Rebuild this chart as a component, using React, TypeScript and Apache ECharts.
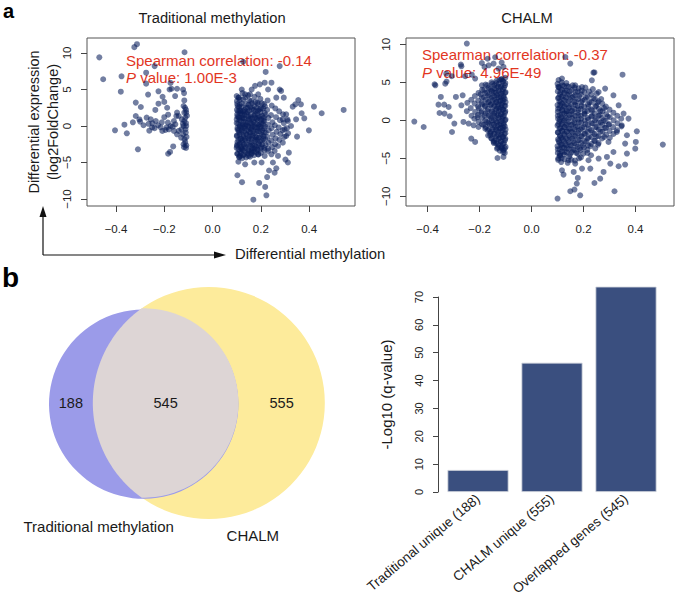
import React, { useEffect, useRef } from "react";
import * as echarts from "echarts";

const FONT = "'Liberation Sans', Arial, Helvetica, sans-serif";

// ---------- Panel a: Traditional methylation (x = diff. methylation, y = log2FC)
const tradNegative: number[][] = [
  [-0.469, 9.4], [-0.453, 6.4], [-0.324, 10.8], [-0.313, 11.2], [-0.116, 10.1], [-0.377, 6.8], [-0.38, 4.7],
  [-0.275, 7.3], [-0.24, 8.2], [-0.275, 5.8], [-0.318, 3.2], [-0.297, 2.6], [-0.267, 4.3], [-0.224, 4.75],
  [-0.174, 5.9], [-0.17, 5.1], [-0.178, 5.0], [-0.147, 5.1], [-0.155, 4.1], [-0.122, 5.0], [-0.118, 4.5],
  [-0.117, 3.5], [-0.207, 4.0], [-0.2, 3.3], [-0.224, 3.05], [-0.237, 2.2], [-0.188, 2.5], [-0.184, 1.55],
  [-0.318, 1.37], [-0.303, 0.9], [-0.3, 0.6], [-0.273, 1.14], [-0.256, 0.91], [-0.249, 0.37], [-0.235, 0.68],
  [-0.226, 0.1], [-0.215, -0.18], [-0.208, -0.68], [-0.195, -0.55], [-0.286, 0.1], [-0.262, -0.64],
  [-0.365, 0.18], [-0.404, -0.59], [-0.355, -1.0], [-0.309, -3.2], [-0.184, -3.8], [-0.176, -3.56],
  [-0.163, -2.8], [-0.12, -2.5], [-0.109, -2.65], [-0.116, -1.83], [-0.122, -1.14], [-0.111, -0.91],
  [-0.129, -0.46], [-0.12, 0], [-0.109, 0], [-0.117, 0.68], [-0.127, 0.91], [-0.113, 1.14], [-0.109, 1.83],
  [-0.117, 1.83], [-0.114, 2.5], [-0.12, 2.74], [-0.16, 0.68], [-0.154, 0.23], [-0.147, 1.83], [-0.15, 1.37],
  [-0.14, 1.37], [-0.174, 0], [-0.165, -0.09], [-0.16, -0.68], [-0.181, -0.46], [-0.185, 0.46], [-0.147, -1.14],
  [-0.14, -0.68], [-0.112, -0.45], [-0.108, -1.5], [-0.113, -2.2], [-0.11, -3.0], [-0.118, -2.9], [-0.11, 0.4],
  [-0.106, 1.4], [-0.11, 2.2], [-0.123, 0.3], [-0.13, -1.6], [-0.2, 1.2], [-0.21, 0.5], [-0.265, 0.3],
  [-0.24, -0.3], [-0.25, -0.2], [-0.33, 0.5], [-0.19, -0.2],
];

const tradPositiveOuter: number[][] = [
  [0.169, -10.1], [0.223, -9.5], [0.218, -8.35], [0.193, -7.8], [0.122, -7.7], [0.103, -6.75], [0.226, -7.0],
  [0.234, -6.1], [0.257, -6.4], [0.264, -5.8], [0.312, -5.0], [0.302, -4.6], [0.316, -3.65], [0.271, -4.1],
  [0.25, -5.0], [0.173, -5.0], [0.203, -5.0], [0.135, -5.25], [0.107, -4.9], [0.35, -1.46], [0.399, -0.6],
  [0.346, 0.91], [0.38, 1.05], [0.452, 1.74], [0.543, 2.2], [0.42, 2.65], [0.369, 1.74], [0.355, 3.56],
  [0.366, 2.97], [0.332, 2.65], [0.343, 2.97], [0.295, 3.88], [0.278, 8.2], [0.22, 7.4], [0.244, 5.93],
  [0.216, 5.93], [0.196, 5.7], [0.176, 5.5], [0.162, 5.0], [0.23, 5.0], [0.278, 5.0], [0.284, 4.8],
  [0.121, 5.0], [0.107, 3.88], [0.135, 4.34], [0.155, 4.34], [0.189, 4.34], [0.264, 3.88], [0.305, 1.6],
  [0.312, 0.68], [0.325, 0], [0.291, 0.91], [0.298, -0.46], [0.305, -1.37], [0.291, -2.28], [0.271, -2.74],
  [0.257, -3.42], [0.23, -3.42], [0.244, -3.88], [0.216, -4.1], [0.189, -3.88], [0.148, -4.1], [0.114, -4.1],
  [0.121, -3.19], [0.101, -2.74], [0.162, -3.42], [0.127, 8.8],
];

const tradPositiveCore: number[][] = [
  [0.100, 4.1], [0.102, 3.0], [0.101, 2.2], [0.103, 1.3], [0.100, 0.4], [0.104, -0.5], [0.101, -1.3], [0.103, -2.2], [0.100, -3.0], [0.102, -3.8],
  [0.112, 3.6], [0.110, 2.6], [0.114, 1.7], [0.111, 0.8], [0.113, -0.1], [0.110, -0.9], [0.115, -1.8], [0.112, -2.6], [0.114, -3.4], [0.111, -4.3],
  [0.124, 4.5], [0.121, 3.1], [0.126, 2.0], [0.123, 1.1], [0.125, 0.2], [0.122, -0.6], [0.127, -1.5], [0.124, -2.3], [0.121, -3.1], [0.126, -4.0],
  [0.135, 3.9], [0.138, 2.5], [0.133, 1.5], [0.137, 0.5], [0.134, -0.3], [0.139, -1.1], [0.136, -2.0], [0.133, -2.8], [0.138, -3.6],
  [0.147, 4.2], [0.149, 2.9], [0.145, 1.9], [0.150, 0.9], [0.146, 0.0], [0.151, -0.8], [0.148, -1.7], [0.152, -2.5], [0.147, -3.3],
  [0.160, 3.4], [0.163, 2.3], [0.158, 1.2], [0.162, 0.3], [0.159, -0.5], [0.164, -1.4], [0.161, -2.2], [0.165, -3.0], [0.160, -3.9],
  [0.174, 4.0], [0.172, 2.7], [0.176, 1.6], [0.171, 0.6], [0.177, -0.2], [0.173, -1.0], [0.178, -1.9], [0.175, -2.7], [0.170, -3.5],
  [0.186, 3.2], [0.189, 2.1], [0.184, 1.0], [0.190, 0.1], [0.187, -0.7], [0.183, -1.6], [0.191, -2.4], [0.185, -3.2],
  [0.198, 3.7], [0.201, 2.4], [0.196, 1.3], [0.203, 0.4], [0.199, -0.4], [0.204, -1.2], [0.197, -2.1], [0.202, -2.9], [0.200, -3.7],
  [0.213, 3.0], [0.216, 1.8], [0.211, 0.7], [0.218, -0.1], [0.214, -0.9], [0.210, -1.8], [0.219, -2.6], [0.215, -3.3],
  [0.228, 3.5], [0.226, 2.2], [0.231, 1.1], [0.229, 0.2], [0.233, -0.6], [0.227, -1.5], [0.232, -2.3], [0.230, -3.1],
  [0.245, 2.8], [0.242, 1.5], [0.248, 0.5], [0.244, -0.3], [0.249, -1.2], [0.243, -2.0], [0.247, -2.9],
  [0.260, 2.4], [0.263, 1.2], [0.258, 0.1], [0.265, -0.8], [0.261, -1.7], [0.259, -2.5],
  [0.276, 2.0], [0.279, 0.8], [0.274, -0.2], [0.281, -1.1], [0.277, -1.9],
  [0.292, 1.6], [0.295, 0.4], [0.290, -0.6], [0.297, -1.5],
  [0.310, 0.9], [0.308, -0.3], [0.313, -1.0],
];

const tradPositiveDense: number[][] = [
  [0.101, 3.4], [0.104, 2.7], [0.109, 3.9], [0.113, 2.9], [0.106, 2.0], [0.116, 2.1], [0.121, 2.6], [0.127, 3.6], [0.132, 2.2], [0.139, 3.0], [0.146, 2.5], [0.152, 3.5], [0.158, 2.6], [0.163, 3.1], [0.171, 2.2], [0.177, 3.3], [0.183, 2.5], [0.189, 3.0], [0.196, 2.3], [0.204, 3.1], [0.209, 2.4], [0.217, 2.7],
  [0.102, 1.6], [0.108, 1.2], [0.112, 2.1], [0.118, 1.8], [0.123, 1.5], [0.129, 1.1], [0.134, 1.9], [0.141, 1.7], [0.148, 1.3], [0.153, 2.1], [0.159, 1.6], [0.165, 1.0], [0.172, 1.4], [0.178, 2.0], [0.185, 1.7], [0.191, 1.1], [0.198, 1.9], [0.205, 1.4], [0.212, 1.1], [0.219, 1.5],
  [0.100, 0.9], [0.106, 0.3], [0.111, 1.1], [0.117, 0.7], [0.122, 0.0], [0.128, 0.6], [0.133, 1.0], [0.140, 0.2], [0.147, 0.5], [0.152, 1.0], [0.158, 0.4], [0.164, -0.1], [0.170, 0.5], [0.176, 1.1], [0.183, 0.3], [0.188, 0.8], [0.195, 0.2], [0.201, 0.9], [0.208, 0.3], [0.214, 0.7],
  [0.103, -0.3], [0.109, -0.6], [0.114, 0.1], [0.120, -0.8], [0.126, -0.2], [0.131, -0.7], [0.137, 0.0], [0.144, -0.6], [0.150, -0.2], [0.156, -0.9], [0.162, -0.3], [0.168, -0.7], [0.175, -0.1], [0.181, -0.8], [0.186, -0.2], [0.193, -0.7], [0.199, -0.1], [0.206, -0.6], [0.213, -0.3], [0.220, -0.9],
  [0.101, -1.4], [0.107, -1.9], [0.112, -1.2], [0.118, -1.7], [0.124, -2.0], [0.129, -1.3], [0.135, -1.8], [0.142, -1.2], [0.149, -1.9], [0.154, -1.4], [0.160, -1.8], [0.166, -1.3], [0.173, -2.1], [0.179, -1.5], [0.184, -1.9], [0.191, -1.6], [0.197, -1.3], [0.204, -2.0], [0.211, -1.4], [0.218, -1.8],
  [0.102, -2.6], [0.108, -3.2], [0.113, -2.4], [0.119, -2.9], [0.125, -3.3], [0.130, -2.5], [0.136, -3.0], [0.143, -2.6], [0.149, -3.4], [0.156, -2.7], [0.161, -3.2], [0.167, -2.6], [0.174, -3.1], [0.180, -2.8], [0.187, -3.3], [0.192, -2.6], [0.199, -3.1], [0.206, -2.5], [0.214, -3.0],
  [0.104, -3.8], [0.110, -4.2], [0.117, -3.7], [0.123, -4.4], [0.131, -3.9], [0.139, -4.3], [0.146, -3.8], [0.155, -4.2], [0.163, -3.7], [0.172, -4.0], [0.181, -3.6], [0.190, -3.9],
];

// ---------- Panel a: CHALM
const chalmNegativeOuter: number[][] = [
  [-0.249, 10.1], [-0.451, -0.17], [-0.415, -0.88], [-0.373, 4.74], [-0.332, 4.82], [-0.272, 7.33], [-0.328, 6.14],
  [-0.349, 3.07], [-0.358, 2.06], [-0.336, 2.06], [-0.354, 0.96], [-0.335, 0.88], [-0.315, 0.53], [-0.319, 1.75],
  [-0.291, 3.07], [-0.27, 1.97], [-0.265, 3.29], [-0.306, -1.54], [-0.297, -0.43], [-0.232, -2.41], [-0.217, -2.85],
  [-0.131, -4.96], [-0.108, -4.82], [-0.133, -3.73], [-0.114, -3.73], [-0.191, 7.54], [-0.181, 7.02], [-0.165, 7.24],
  [-0.146, 7.46], [-0.127, 6.8], [-0.108, 7.02], [-0.217, 5.49], [-0.191, 4.6], [-0.262, -0.22], [-0.242, -0.43],
  [-0.223, -0.66], [-0.204, -0.88], [-0.178, -1.1], [-0.159, -1.97], [-0.146, -2.85], [-0.169, 8.1], [-0.14, 8.3],
  [-0.115, 7.6], [-0.115, 5.4], [-0.23, 6.0], [-0.255, 5.8], [-0.27, 7.1], [-0.307, 5.8], [-0.327, 5.1], [-0.37, 4.6],
];

const chalmNegativeCore: number[][] = [
  [-0.101, 5.6], [-0.102, 4.6], [-0.100, 3.7], [-0.103, 2.8], [-0.101, 1.9], [-0.102, 1.0], [-0.100, 0.1], [-0.103, -0.8], [-0.101, -1.7], [-0.102, -2.6], [-0.100, -3.5], [-0.103, -4.3],
  [-0.109, 5.1], [-0.110, 4.1], [-0.108, 3.2], [-0.111, 2.3], [-0.109, 1.4], [-0.110, 0.5], [-0.108, -0.4], [-0.111, -1.3], [-0.109, -2.2], [-0.110, -3.1], [-0.108, -3.9],
  [-0.117, 5.4], [-0.118, 4.4], [-0.116, 3.5], [-0.119, 2.6], [-0.117, 1.7], [-0.118, 0.8], [-0.116, -0.1], [-0.119, -1.0], [-0.117, -1.9], [-0.118, -2.8], [-0.116, -3.6],
  [-0.126, 4.8], [-0.127, 3.9], [-0.125, 3.0], [-0.128, 2.1], [-0.126, 1.2], [-0.127, 0.3], [-0.125, -0.6], [-0.128, -1.5], [-0.126, -2.4], [-0.127, -3.3],
  [-0.135, 5.2], [-0.136, 4.2], [-0.134, 3.3], [-0.137, 2.4], [-0.135, 1.5], [-0.136, 0.6], [-0.134, -0.3], [-0.137, -1.2], [-0.135, -2.1], [-0.136, -3.0],
  [-0.144, 4.6], [-0.145, 3.6], [-0.143, 2.7], [-0.146, 1.8], [-0.144, 0.9], [-0.145, 0.0], [-0.143, -0.9], [-0.146, -1.8], [-0.144, -2.7],
  [-0.154, 5.0], [-0.155, 3.9], [-0.153, 3.0], [-0.156, 2.1], [-0.154, 1.2], [-0.155, 0.3], [-0.153, -0.6], [-0.156, -1.5], [-0.154, -2.4],
  [-0.165, 4.3], [-0.166, 3.3], [-0.164, 2.4], [-0.167, 1.5], [-0.165, 0.6], [-0.166, -0.3], [-0.164, -1.2], [-0.167, -2.0],
  [-0.177, 4.7], [-0.178, 3.6], [-0.176, 2.7], [-0.179, 1.8], [-0.177, 0.9], [-0.178, 0.0], [-0.176, -0.9],
  [-0.190, 4.0], [-0.191, 3.0], [-0.189, 2.1], [-0.192, 1.2], [-0.190, 0.3], [-0.191, -0.5],
  [-0.204, 3.6], [-0.205, 2.6], [-0.203, 1.6], [-0.206, 0.7], [-0.204, -0.2],
  [-0.218, 3.2], [-0.219, 2.2], [-0.217, 1.1], [-0.220, 0.2],
  [-0.232, 2.7], [-0.234, 1.6], [-0.231, 0.6],
  [-0.247, 2.3], [-0.249, 1.2],
];

const chalmNegativeDense: number[][] = [
  [-0.101, 4.9], [-0.106, 4.3], [-0.111, 5.2], [-0.117, 4.5], [-0.123, 5.3], [-0.129, 4.4], [-0.136, 4.9], [-0.143, 4.2], [-0.151, 4.8], [-0.160, 4.1], [-0.170, 4.6], [-0.182, 4.0],
  [-0.102, 3.6], [-0.107, 3.0], [-0.112, 3.8], [-0.118, 3.1], [-0.124, 3.7], [-0.130, 3.0], [-0.137, 3.6], [-0.144, 3.2], [-0.152, 3.8], [-0.161, 3.1], [-0.171, 3.6], [-0.183, 3.0], [-0.196, 3.4],
  [-0.100, 2.4], [-0.105, 1.9], [-0.110, 2.6], [-0.116, 2.0], [-0.122, 2.5], [-0.128, 1.8], [-0.135, 2.4], [-0.142, 1.9], [-0.150, 2.6], [-0.158, 2.0], [-0.168, 2.4], [-0.179, 1.9], [-0.192, 2.3], [-0.206, 1.8],
  [-0.101, 1.2], [-0.106, 0.6], [-0.111, 1.4], [-0.117, 0.8], [-0.123, 1.5], [-0.129, 0.7], [-0.136, 1.3], [-0.143, 0.6], [-0.151, 1.1], [-0.160, 0.5], [-0.170, 1.2], [-0.181, 0.6], [-0.194, 1.0], [-0.208, 0.4],
  [-0.102, 0.0], [-0.107, -0.6], [-0.112, 0.2], [-0.118, -0.5], [-0.124, 0.1], [-0.130, -0.7], [-0.137, -0.1], [-0.145, -0.6], [-0.153, 0.0], [-0.162, -0.5], [-0.172, -0.2], [-0.185, -0.6],
  [-0.100, -1.2], [-0.105, -1.8], [-0.110, -1.0], [-0.116, -1.6], [-0.122, -1.1], [-0.128, -1.9], [-0.135, -1.3], [-0.142, -1.8], [-0.150, -1.2], [-0.159, -1.7], [-0.169, -1.3],
  [-0.101, -2.4], [-0.106, -3.0], [-0.111, -2.2], [-0.117, -2.8], [-0.123, -2.3], [-0.129, -3.1], [-0.137, -2.5], [-0.145, -3.0], [-0.154, -2.4],
  [-0.103, -3.7], [-0.109, -4.2], [-0.115, -3.5], [-0.122, -4.0], [-0.130, -3.6],
];

const chalmPositiveOuter: number[][] = [
  [0.1, -10.3], [0.319, -9.34], [0.187, -9.87], [0.165, -9.12], [0.149, -9.34], [0.174, -8.33], [0.178, -7.59],
  [0.242, -8.25], [0.264, -7.68], [0.277, -6.8], [0.335, -6.05], [0.36, -5.83], [0.303, -5.7], [0.226, -6.36],
  [0.123, -7.15], [0.117, -6.58], [0.162, -6.8], [0.194, -6.36], [0.505, -3.2], [0.401, -2.85], [0.405, -1.45],
  [0.399, -3.73], [0.367, -4.38], [0.36, -3.07], [0.395, 3.07], [0.35, 6.0], [0.238, 6.27], [0.232, 5.26],
  [0.149, 7.46], [0.13, 8.33], [0.117, 5.49], [0.104, 4.38], [0.168, 4.6], [0.194, 4.38], [0.258, 3.72],
  [0.283, 4.17], [0.315, 3.29], [0.335, 1.97], [0.354, 0.88], [0.373, 0.22], [0.347, -0.66], [0.328, -1.54],
  [0.367, -1.97], [0.296, -2.85], [0.315, -4.17], [0.29, -4.82], [0.258, -5.04], [0.219, -5.26], [0.142, -5.26],
  [0.11, -4.6], [0.104, 5.3], [0.242, 6.3],
];

const chalmPositiveCore: number[][] = [
  [0.100, 4.8], [0.101, 3.8], [0.102, 2.9], [0.100, 2.0], [0.101, 1.1], [0.102, 0.2], [0.100, -0.7], [0.101, -1.6], [0.102, -2.5], [0.100, -3.4], [0.101, -4.3], [0.102, -5.2],
  [0.108, 4.3], [0.109, 3.4], [0.107, 2.5], [0.108, 1.6], [0.109, 0.7], [0.107, -0.2], [0.108, -1.1], [0.109, -2.0], [0.107, -2.9], [0.108, -3.8], [0.109, -4.7],
  [0.116, 5.0], [0.117, 4.0], [0.115, 3.1], [0.116, 2.2], [0.117, 1.3], [0.115, 0.4], [0.116, -0.5], [0.117, -1.4], [0.115, -2.3], [0.116, -3.2], [0.117, -4.1], [0.115, -5.0],
  [0.125, 4.5], [0.126, 3.6], [0.124, 2.7], [0.125, 1.8], [0.126, 0.9], [0.124, 0.0], [0.125, -0.9], [0.126, -1.8], [0.124, -2.7], [0.125, -3.6], [0.126, -4.5],
  [0.134, 4.9], [0.135, 3.9], [0.133, 3.0], [0.134, 2.1], [0.135, 1.2], [0.133, 0.3], [0.134, -0.6], [0.135, -1.5], [0.133, -2.4], [0.134, -3.3], [0.135, -4.2],
  [0.144, 4.4], [0.145, 3.4], [0.143, 2.5], [0.144, 1.6], [0.145, 0.7], [0.143, -0.2], [0.144, -1.1], [0.145, -2.0], [0.143, -2.9], [0.144, -3.8], [0.145, -4.8],
  [0.155, 4.0], [0.156, 3.0], [0.154, 2.1], [0.155, 1.2], [0.156, 0.3], [0.154, -0.6], [0.155, -1.5], [0.156, -2.4], [0.154, -3.3], [0.155, -4.2],
  [0.166, 4.3], [0.167, 3.3], [0.165, 2.4], [0.166, 1.5], [0.167, 0.6], [0.165, -0.3], [0.166, -1.2], [0.167, -2.1], [0.165, -3.0], [0.166, -3.9], [0.167, -5.3],
  [0.178, 3.8], [0.179, 2.8], [0.177, 1.9], [0.178, 1.0], [0.179, 0.1], [0.177, -0.8], [0.178, -1.7], [0.179, -2.6], [0.177, -3.5], [0.178, -4.4],
  [0.190, 3.4], [0.191, 2.4], [0.189, 1.5], [0.190, 0.6], [0.191, -0.3], [0.189, -1.2], [0.190, -2.1], [0.191, -3.0], [0.189, -3.9], [0.190, -4.9],
  [0.203, 3.7], [0.204, 2.7], [0.202, 1.8], [0.203, 0.9], [0.204, 0.0], [0.202, -0.9], [0.203, -1.8], [0.204, -2.7], [0.202, -3.6],
  [0.216, 3.1], [0.217, 2.1], [0.215, 1.2], [0.216, 0.3], [0.217, -0.6], [0.215, -1.5], [0.216, -2.4], [0.217, -3.3], [0.215, -4.3],
  [0.230, 3.4], [0.231, 2.4], [0.229, 1.4], [0.230, 0.5], [0.231, -0.4], [0.229, -1.3], [0.230, -2.2], [0.231, -3.1],
  [0.244, 2.8], [0.245, 1.8], [0.243, 0.9], [0.244, 0.0], [0.245, -0.9], [0.243, -1.8], [0.244, -2.7], [0.245, -3.7],
  [0.258, 2.5], [0.259, 1.5], [0.257, 0.6], [0.258, -0.3], [0.259, -1.2], [0.257, -2.1], [0.258, -3.0],
  [0.272, 2.2], [0.273, 1.2], [0.271, 0.3], [0.272, -0.6], [0.273, -1.5], [0.271, -2.4],
  [0.286, 1.8], [0.287, 0.8], [0.285, -0.1], [0.286, -1.0], [0.287, -1.9],
  [0.300, 1.4], [0.301, 0.4], [0.299, -0.5], [0.300, -1.4], [0.301, -2.3],
  [0.315, 1.0], [0.316, 0.0], [0.314, -0.9], [0.315, -1.8],
  [0.330, 0.6], [0.331, -0.4], [0.329, -1.3],
  [0.345, 0.2], [0.346, -0.8],
];

const chalmPositiveDense: number[][] = [
  [0.103, 4.4], [0.111, 3.7], [0.119, 4.6], [0.128, 3.9], [0.137, 4.5], [0.147, 3.8], [0.158, 4.6], [0.169, 3.7], [0.181, 4.2], [0.193, 3.9], [0.207, 4.3], [0.221, 3.8], [0.236, 4.1], [0.251, 3.5],
  [0.104, 3.0], [0.112, 2.4], [0.120, 3.2], [0.129, 2.6], [0.139, 3.3], [0.149, 2.7], [0.160, 3.1], [0.171, 2.5], [0.183, 3.2], [0.195, 2.6], [0.209, 3.0], [0.223, 2.4], [0.238, 2.9], [0.253, 2.3], [0.268, 2.8],
  [0.102, 1.5], [0.110, 2.0], [0.118, 1.4], [0.127, 1.9], [0.136, 1.2], [0.146, 1.8], [0.157, 1.3], [0.168, 2.0], [0.180, 1.4], [0.192, 1.9], [0.205, 1.2], [0.219, 1.8], [0.234, 1.3], [0.249, 1.9], [0.264, 1.2], [0.279, 1.6],
  [0.101, 0.6], [0.109, 0.1], [0.117, 0.8], [0.126, 0.2], [0.135, 0.9], [0.145, 0.3], [0.156, 0.8], [0.167, 0.1], [0.179, 0.7], [0.191, 0.2], [0.204, 0.8], [0.218, 0.1], [0.233, 0.6], [0.248, 0.2], [0.263, 0.7], [0.278, 0.0], [0.293, 0.5],
  [0.103, -0.5], [0.111, -1.0], [0.119, -0.3], [0.128, -0.9], [0.138, -0.4], [0.148, -1.1], [0.159, -0.5], [0.170, -0.9], [0.182, -0.3], [0.194, -1.0], [0.207, -0.5], [0.221, -1.1], [0.236, -0.4], [0.251, -0.9], [0.266, -0.3], [0.281, -1.0], [0.296, -0.6],
  [0.102, -1.6], [0.110, -2.1], [0.118, -1.4], [0.127, -2.0], [0.137, -1.5], [0.147, -2.2], [0.158, -1.6], [0.169, -2.0], [0.181, -1.4], [0.193, -2.1], [0.206, -1.7], [0.220, -2.2], [0.235, -1.6], [0.250, -2.1], [0.265, -1.5], [0.280, -2.2],
  [0.104, -2.7], [0.112, -3.2], [0.120, -2.5], [0.130, -3.1], [0.140, -2.6], [0.150, -3.3], [0.161, -2.7], [0.172, -3.2], [0.184, -2.6], [0.197, -3.3], [0.211, -2.8], [0.226, -3.4], [0.241, -2.7], [0.256, -3.2],
  [0.101, -3.8], [0.109, -4.4], [0.118, -3.6], [0.127, -4.2], [0.137, -3.7], [0.148, -4.5], [0.160, -3.9], [0.172, -4.3], [0.185, -3.7], [0.199, -4.4], [0.214, -3.9], [0.229, -4.6],
  [0.103, -5.0], [0.114, -5.5], [0.126, -5.1], [0.139, -5.6], [0.153, -5.2], [0.168, -5.7], [0.183, -5.0],
];

const scatterXTicks = [-0.4, -0.2, 0, 0.2, 0.4];
const scatterYTicks = [-10, -5, 0, 5, 10];

// ---------- Panel b
const vennSetNames = ["Traditional methylation", "CHALM"];
const vennRegionCounts = [188, 545, 555]; // traditional only, overlap, CHALM only

const barCategories = ["Traditional unique (188)", "CHALM unique (555)", "Overlapped genes (545)"];
const barValues = [7.9, 46.4, 73.7];
const barYTicks = [0, 10, 20, 30, 40, 50, 60, 70];

// ---------- layout / style
const DOT = "rgba(10,31,92,0.72)";
const RED = "#e2361f";
const VENN_R2 = 116;
const VENN_LEFT = 49;
const VENN_CY = 403;

function lensArea(r1: number, r2: number, d: number) {
  if (d >= r1 + r2) return 0;
  if (d <= Math.abs(r1 - r2)) return Math.PI * Math.min(r1, r2) ** 2;
  const a = r1 * r1 * Math.acos((d * d + r1 * r1 - r2 * r2) / (2 * d * r1));
  const b = r2 * r2 * Math.acos((d * d + r2 * r2 - r1 * r1) / (2 * d * r2));
  const c = 0.5 * Math.sqrt((-d + r1 + r2) * (d + r1 - r2) * (d - r1 + r2) * (d + r1 + r2));
  return a + b - c;
}

function vennGeometry() {
  const tot1 = vennRegionCounts[0] + vennRegionCounts[1];
  const tot2 = vennRegionCounts[1] + vennRegionCounts[2];
  const k = (Math.PI * VENN_R2 * VENN_R2) / tot2;
  const r2 = VENN_R2;
  const r1 = Math.sqrt((tot1 * k) / Math.PI);
  const target = vennRegionCounts[1] * k;
  let lo = Math.abs(r1 - r2), hi = r1 + r2;
  for (let i = 0; i < 80; i++) {
    const mid = (lo + hi) / 2;
    if (lensArea(r1, r2, mid) > target) lo = mid; else hi = mid;
  }
  const d = (lo + hi) / 2;
  const cx1 = VENN_LEFT + r1;
  return { r1, r2, d, cx1, cx2: cx1 + d, cy: VENN_CY };
}

const fmtNum = (v: number, digits: number) => {
  const s = digits > 0 ? Math.abs(v).toFixed(digits) : String(Math.abs(v));
  return v < 0 ? "\u2212" + s : s;
};

function scatterXAxis(gridIndex: number, min: number, max: number) {
  return {
    gridIndex, type: "value", min, max,
    axisLine: { show: false, onZero: false },
    splitLine: { show: false },
    axisTick: { show: true, customValues: scatterXTicks, length: 6, lineStyle: { color: "#444", width: 1 } },
    axisLabel: {
      show: true, customValues: scatterXTicks, formatter: (v: number) => fmtNum(v, 1),
      margin: 17, fontSize: 11.5, color: "#222", fontFamily: FONT,
    },
  };
}
function scatterYAxis(gridIndex: number, min: number, max: number) {
  return {
    gridIndex, type: "value", min, max,
    axisLine: { show: false, onZero: false },
    splitLine: { show: false },
    axisTick: { show: true, customValues: scatterYTicks, length: 6, lineStyle: { color: "#444", width: 1 } },
    axisLabel: {
      show: true, customValues: scatterYTicks, formatter: (v: number) => fmtNum(v, 0), rotate: 90,
      margin: 14, fontSize: 11.5, color: "#222", fontFamily: FONT,
    },
  };
}

function txt(text: string, x: number, y: number, size: number, extra: any = {}, color = "#1a1a1a") {
  return {
    type: "text", x, y, z: 0,
    style: {
      text, fill: color, fontSize: size, fontFamily: FONT,
      align: extra.align || "left", textAlign: extra.align || "left",
      verticalAlign: "middle", textVerticalAlign: "middle",
      fontWeight: extra.bold ? "bold" : "normal",
      lineHeight: extra.lineHeight, rich: extra.rich,
    },
    rotation: extra.rotation || 0,
  };
}

export default function App() {
  const ref = useRef<HTMLDivElement>(null);
  useEffect(() => {
    if (!ref.current) return;
    const chart = echarts.init(ref.current, undefined, { renderer: "svg" });
    const g = vennGeometry();
    const rich = { it: { fontStyle: "italic", fontSize: 15, fill: RED, color: RED, fontFamily: FONT } };

    const option: any = {
      animation: false,
      backgroundColor: "#ffffff",
      grid: [
        { left: 87, top: 38, width: 268, height: 168, show: true, borderColor: "#555", borderWidth: 1, outerBoundsMode: "none", containLabel: false },
        { left: 406, top: 38, width: 268, height: 168, show: true, borderColor: "#555", borderWidth: 1, outerBoundsMode: "none", containLabel: false },
        { left: 0, top: 0, width: 675, height: 599, show: false, outerBoundsMode: "none", containLabel: false },
        { left: 441, top: 297, width: 222, height: 195, show: false, outerBoundsMode: "none", containLabel: false },
      ],
      xAxis: [
        scatterXAxis(0, -0.52, 0.59),
        scatterXAxis(1, -0.483, 0.548),
        { gridIndex: 2, type: "value", min: 0, max: 675, show: false },
        {
          gridIndex: 3, type: "category", data: barCategories,
          axisLine: { show: false }, axisTick: { show: false },
          axisLabel: { rotate: 40, fontSize: 13.5, color: "#1a1a1a", fontFamily: FONT, margin: 5, interval: 0 },
        },
      ],
      yAxis: [
        scatterYAxis(0, -10.96, 12.05),
        scatterYAxis(1, -11.28, 10.83),
        { gridIndex: 2, type: "value", min: 0, max: 599, inverse: true, show: false },
        {
          gridIndex: 3, type: "value", min: 0, max: 70, interval: 10, offset: 3,
          axisLine: { show: true, lineStyle: { color: "#444", width: 1 } },
          axisTick: { show: true, length: 5, lineStyle: { color: "#444" } },
          splitLine: { show: false },
          axisLabel: { rotate: 90, fontSize: 11, color: "#222", fontFamily: FONT, margin: 14, customValues: barYTicks },
          name: "-Log10 (q-value)", nameLocation: "middle", nameGap: 44,
          nameTextStyle: { fontSize: 15, color: "#1a1a1a", fontFamily: FONT },
        },
      ],
      series: [
        {
          type: "scatter", xAxisIndex: 0, yAxisIndex: 0, symbolSize: 6,
          data: [...tradNegative, ...tradPositiveOuter, ...tradPositiveCore, ...tradPositiveDense],
          itemStyle: { color: DOT }, z: 3,
        },
        {
          type: "scatter", xAxisIndex: 1, yAxisIndex: 1, symbolSize: 6,
          data: [...chalmNegativeOuter, ...chalmNegativeCore, ...chalmNegativeDense, ...chalmPositiveOuter, ...chalmPositiveCore, ...chalmPositiveDense],
          itemStyle: { color: DOT }, z: 3,
        },
        {
          type: "custom", xAxisIndex: 2, yAxisIndex: 2, coordinateSystem: "cartesian2d",
          data: [[g.cx1, g.cy]],
          renderItem: (_p: any, api: any) => {
            const c1 = api.coord([g.cx1, g.cy]);
            const c2 = api.coord([g.cx2, g.cy]);
            const { r1, r2, d } = g;
            const xi = (d * d - r2 * r2 + r1 * r1) / (2 * d);
            const h = Math.sqrt(Math.max(0, r1 * r1 - xi * xi));
            const alpha = Math.atan2(h, xi);
            const beta = Math.atan2(h, xi - d);
            const pts: number[][] = [];
            const n = 90;
            for (let i = 0; i <= n; i++) {
              const t = -alpha + (2 * alpha * i) / n;
              pts.push([c1[0] + r1 * Math.cos(t), c1[1] + r1 * Math.sin(t)]);
            }
            for (let i = 0; i <= n; i++) {
              const t = beta + ((2 * Math.PI - 2 * beta) * i) / n;
              pts.push([c2[0] + r2 * Math.cos(t), c2[1] + r2 * Math.sin(t)]);
            }
            const yLeft = c2[0] - r2, bRight = c1[0] + r1;
            const mk = (text: string, x: number, y: number, size: number) => ({
              type: "text",
              style: { text, x, y, fill: "#1a1a1a", fontSize: size, fontFamily: FONT, align: "center", verticalAlign: "middle", textAlign: "center", textVerticalAlign: "middle" },
            });
            return {
              type: "group",
              children: [
                { type: "circle", shape: { cx: c2[0], cy: c2[1], r: r2 }, style: { fill: "#fdeb9b" } },
                { type: "circle", shape: { cx: c1[0], cy: c1[1], r: r1 }, style: { fill: "#9b9be9" } },
                { type: "polygon", shape: { points: pts }, style: { fill: "#ddd5d5" } },
                mk(String(vennRegionCounts[0]), (c1[0] - r1 + yLeft) / 2, c1[1], 14.5),
                mk(String(vennRegionCounts[1]), (yLeft + bRight) / 2, c1[1], 14.5),
                mk(String(vennRegionCounts[2]), (bRight + c2[0] + r2) / 2, c1[1], 14.5),
                mk(vennSetNames[0], c1[0] - 45, c1[1] + r1 + 29, 15),
                mk(vennSetNames[1], c2[0] + 44, c2[1] + r2 + 16, 15),
              ],
            };
          },
        },
        {
          type: "bar", xAxisIndex: 3, yAxisIndex: 3, data: barValues, barWidth: 61, clip: false,
          itemStyle: { color: "#3a4f7f", borderColor: "#c9ced8", borderWidth: 0.8 },
        },
      ],
      graphic: [
        txt("a", 3, 11, 20, { bold: true }, "#000"),
        txt("b", 2, 277, 28, { bold: true }, "#000"),
        txt("Traditional methylation", 212, 18, 14.7, { align: "center" }),
        txt("CHALM", 527, 18, 14.7, { align: "center" }),
        txt("Spearman correlation: -0.14", 126, 60, 15, {}, RED),
        txt("{it|P} value: 1.00E-3", 126, 77, 15, { rich }, RED),
        txt("Spearman correlation: -0.37", 422, 54, 15, {}, RED),
        txt("{it|P} value: 4.96E-49", 422, 72, 15, { rich }, RED),
        txt("Differential expression\n(log2FoldChange)", 43.5, 122, 14.5, { align: "center", rotation: Math.PI / 2, lineHeight: 19 }),
        txt("Differential methylation", 235, 254, 14.8),
        { type: "polyline", shape: { points: [[43, 255], [43, 214]] }, style: { stroke: "#111", lineWidth: 1.2, fill: null } },
        { type: "polyline", shape: { points: [[43, 255], [216, 255]] }, style: { stroke: "#111", lineWidth: 1.2, fill: null } },
        { type: "polygon", shape: { points: [[43, 206], [39.5, 217], [46.5, 217]] }, style: { fill: "#111" } },
        { type: "polygon", shape: { points: [[226, 255], [214, 251.5], [214, 258.5]] }, style: { fill: "#111" } },
      ],
    };
    chart.setOption(option);
    return () => chart.dispose();
  }, []);
  return <div ref={ref} style={{ position: "fixed", left: 0, top: 0, width: 675, height: 599 }} />;
}
